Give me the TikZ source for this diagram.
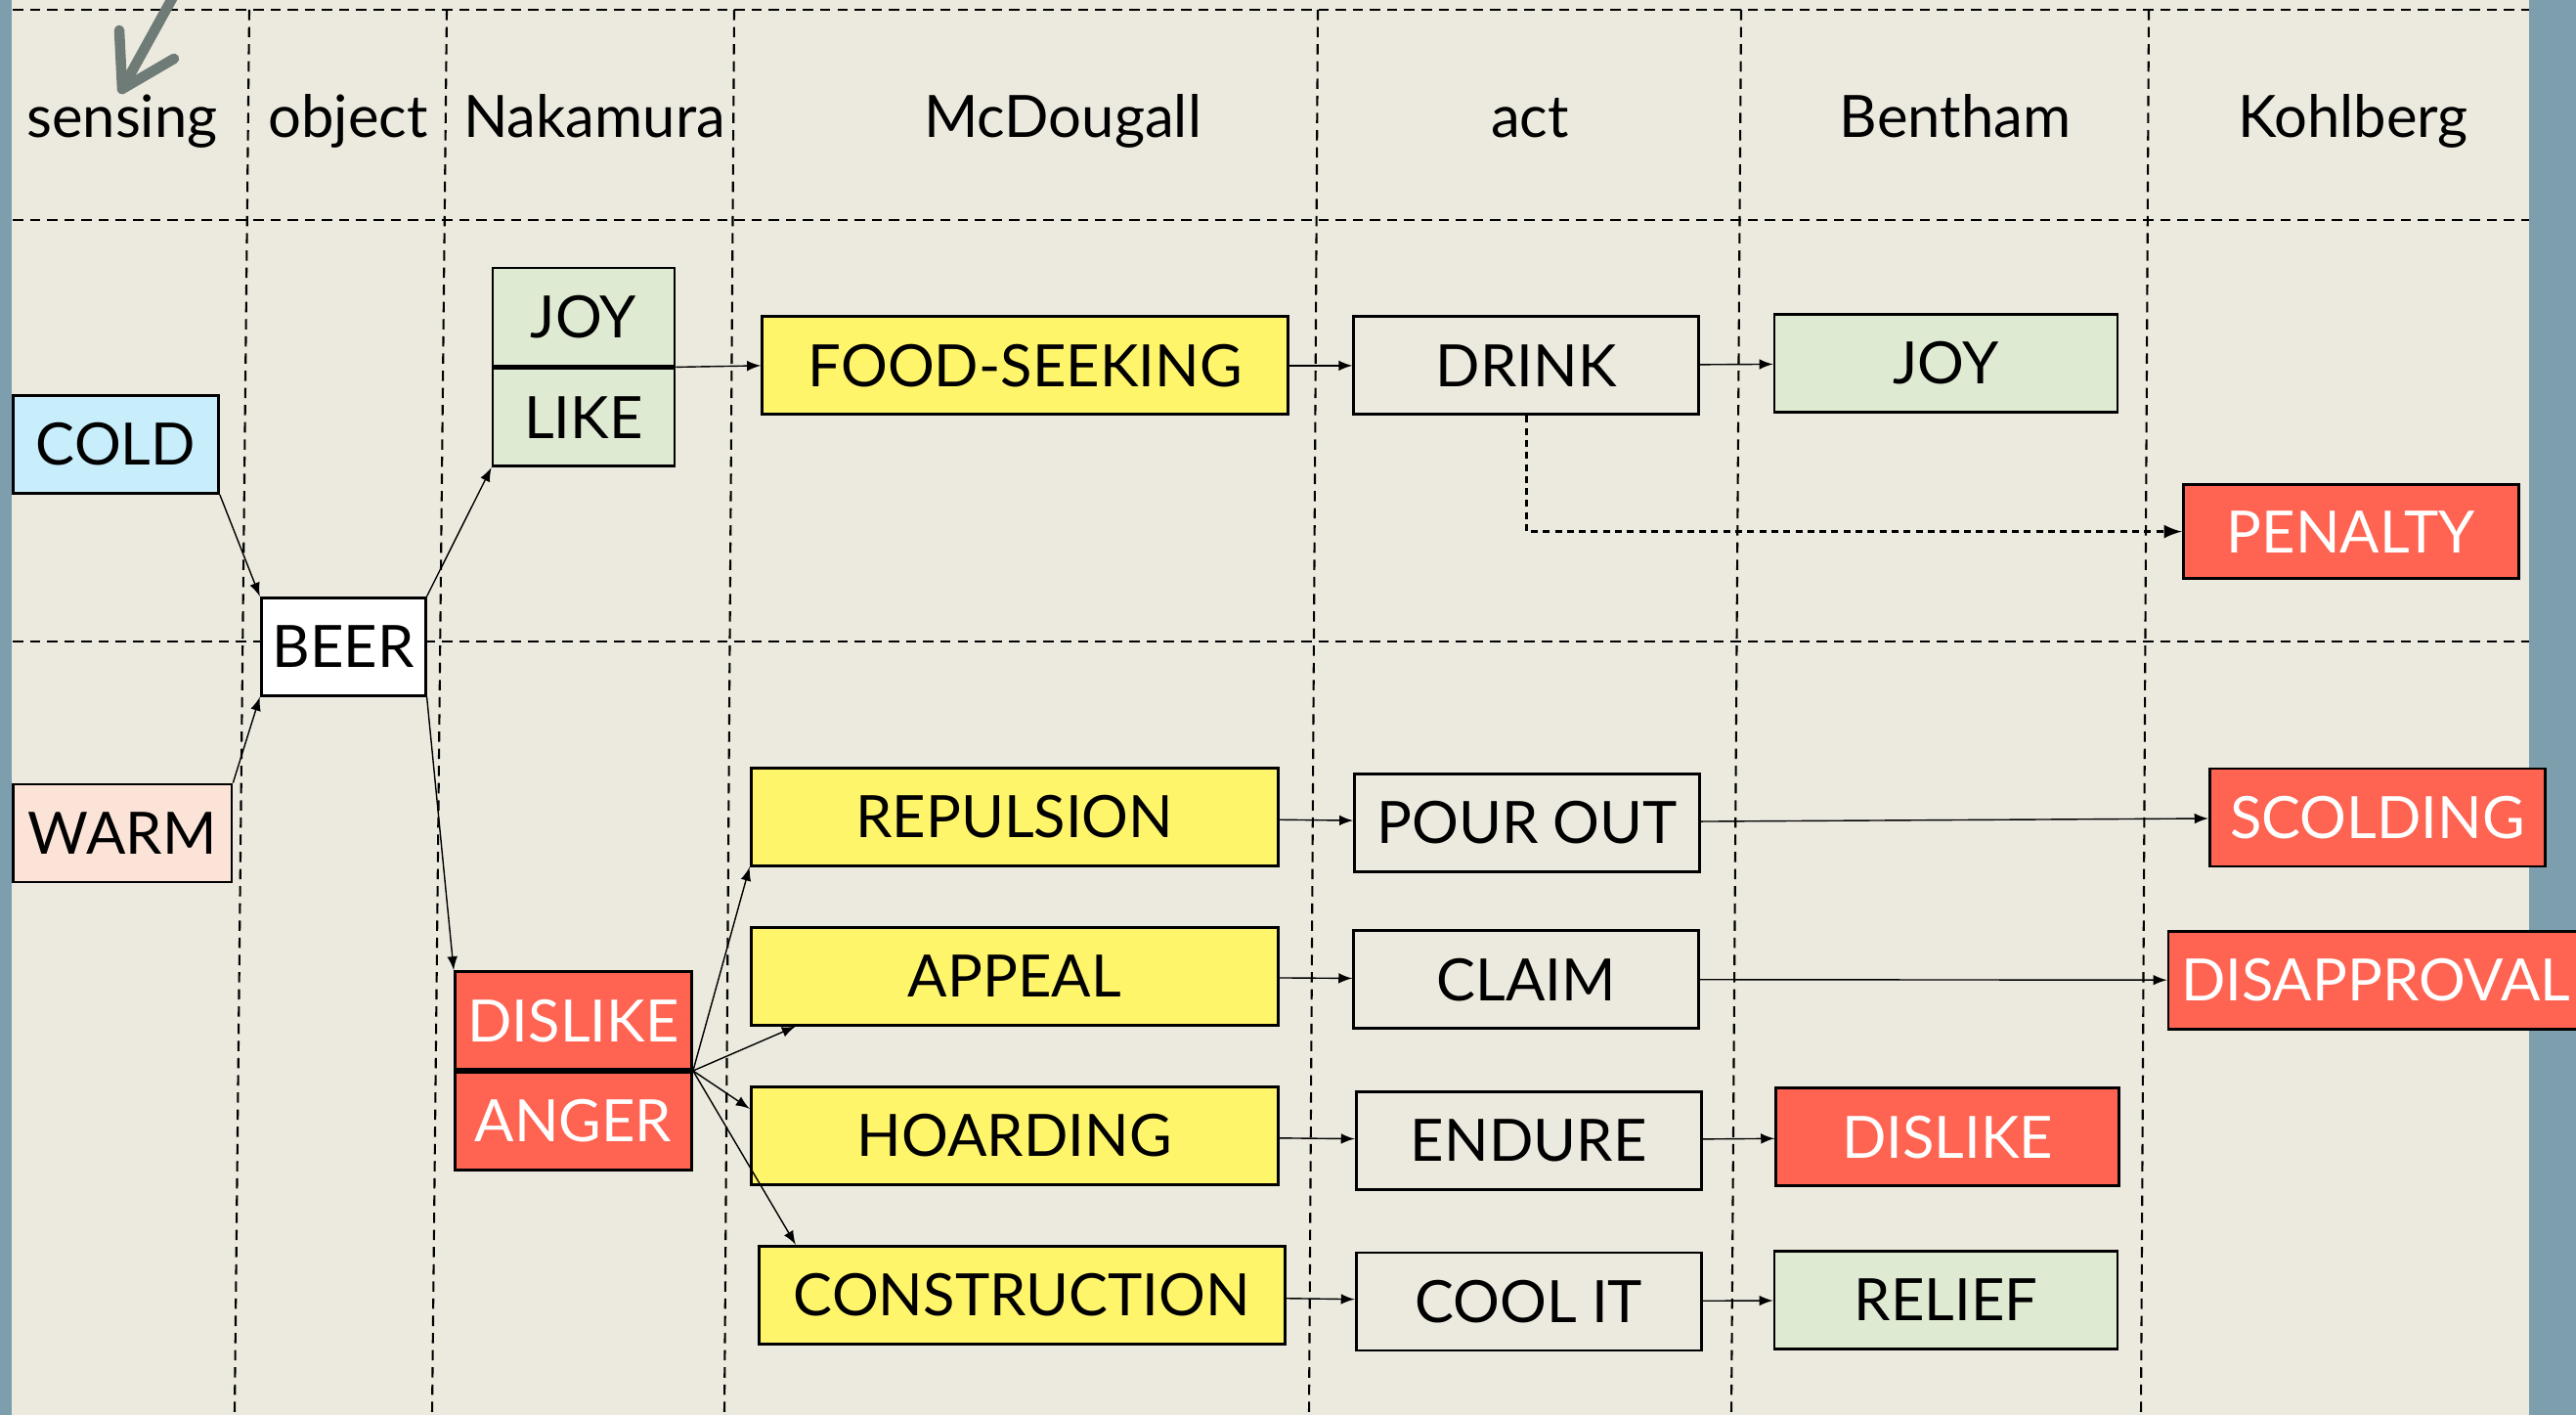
\documentclass[tikz,border=0pt]{standalone}
\usepackage{fontspec}
\setmainfont{Lato}
\usetikzlibrary{positioning,calc}

\definecolor{paper}{HTML}{ECEADF}
\definecolor{slate}{HTML}{7D9EAD}
\definecolor{pencil}{HTML}{6F7B76}
\definecolor{coldblue}{HTML}{C8EEFB}
\definecolor{warmpink}{HTML}{FCE3D7}
\definecolor{likegreen}{HTML}{DFEAD3}
\definecolor{drive}{HTML}{FFF56A}
\definecolor{blame}{HTML}{FF6351}

\begin{document}
\begin{tikzpicture}
    \tikzset{emo/.style={draw, line width=0.8pt, inner sep=0pt, minimum height=1cm,
        font=\fontsize{17}{20}\selectfont},
      likebox/.style={emo, fill=likegreen},
      drivebox/.style={emo, fill=drive, minimum width=5.39cm},
      actbox/.style={emo, minimum width=3.53cm},
      blamebox/.style={emo, fill=blame, text=white},
      headline/.style={anchor=base, font=\fontsize{17}{20}\selectfont},
      gridline/.style={line width=0.6pt, dash pattern=on 3pt off 2pt}
    }

    \useasboundingbox (0,0) rectangle (26.35,-14.47);
    \fill[paper] (0,0) rectangle (26.35,-14.47);
    \fill[slate] (0,0) rectangle (0.12,-14.47);
    \fill[slate] (25.87,0) rectangle (26.35,-14.47);

    % columns and rows
    \draw[gridline] (0.13,-0.10) -- (25.87,-0.10);
    \draw[gridline] (0.13,-2.25) -- (25.87,-2.25);
    \draw[gridline] (0.13,-6.56) -- (25.87,-6.56);
    \draw[gridline] (2.55,-0.10) -- (2.40,-14.47);
    \draw[gridline] (4.57,-0.10) -- (4.42,-14.47);
    \draw[gridline] (7.51,-0.10) -- (7.41,-14.47);
    \draw[gridline] (13.48,-0.10) -- (13.39,-14.47);
    \draw[gridline] (17.81,-0.10) -- (17.71,-14.47);
    \draw[gridline] (21.98,-0.10) -- (21.90,-14.47);

    % pencil mark
    \draw[pencil, line width=3pt, line cap=round, line join=round] (1.78,0.05) -- (1.25,-0.91);
    \draw[pencil, line width=3pt, line cap=round, line join=round] (1.22,-0.31) -- (1.25,-0.91) -- (1.78,-0.60);

    \node[headline] (hSens) at (1.25,-1.41) {sensing};
    \node[headline] (hObj) at (3.56,-1.41) {object};
    \node[headline] (hNak) at (6.08,-1.41) {Nakamura};
    \node[headline] (hMcD) at (10.87,-1.41) {McDougall};
    \node[headline] (hAct) at (15.65,-1.41) {act};
    \node[headline] (hBen) at (20.00,-1.41) {Bentham};
    \node[headline] (hKoh) at (24.07,-1.41) {Kohlberg};

    \node[emo, fill=coldblue, minimum width=2.10cm] (COLD) at (1.185,-4.546) {COLD};
    \node[emo, fill=warmpink, minimum width=2.235cm] (WARM) at (1.252,-8.520) {WARM};
    \node[emo, fill=white, minimum width=1.68cm] (BEER) at (3.512,-6.613) {BEER};

    \node[likebox, minimum width=1.86cm] (JOY) at (5.97,-3.24) {JOY};
    \node[likebox, minimum width=1.86cm, below=0pt of JOY] (LIKE) {LIKE};
    \node[blamebox, minimum width=2.42cm] (DISN) at (5.865,-10.436) {DISLIKE};
    \node[blamebox, minimum width=2.42cm, below=0pt of DISN] (ANG) {ANGER};

    \node[drivebox, minimum width=5.38cm] (FOOD) at (10.486,-3.739) {FOOD-SEEKING};
    \node[drivebox] (REP) at (10.377,-8.352) {REPULSION};
    \node[drivebox] (APP) at (10.377,-9.982) {APPEAL};
    \node[drivebox] (HOARD) at (10.377,-11.612) {HOARDING};
    \node[drivebox, minimum width=5.38cm] (CONS) at (10.453,-13.242) {CONSTRUCTION};

    \node[actbox] (DRINK) at (15.612,-3.739) {DRINK};
    \node[actbox] (POUR) at (15.620,-8.411) {POUR OUT};
    \node[actbox] (CLAIM) at (15.612,-10.016) {CLAIM};
    \node[actbox] (END) at (15.637,-11.663) {ENDURE};
    \node[actbox] (COOL) at (15.637,-13.310) {COOL IT};

    \node[likebox, minimum width=3.51cm] (JOYB) at (19.905,-3.714) {JOY};
    \node[blamebox, minimum width=3.51cm] (DISB) at (19.922,-11.629) {DISLIKE};
    \node[likebox, minimum width=3.51cm] (REL) at (19.905,-13.293) {RELIEF};

    \node[blamebox, minimum width=3.43cm, minimum height=0.96cm] (PEN) at (24.048,-5.436) {PENALTY};
    \node[blamebox, minimum width=3.43cm] (SCOLD) at (24.317,-8.360) {SCOLDING};
    \node[blamebox, minimum width=4.24cm] (DISAP) at (24.30,-10.024) {DISAPPROVAL};

    \draw[-latex] (COLD.south east) -- (BEER.north west);
    \draw[-latex] (WARM.north east) -- (BEER.south west);
    \draw[-latex] (BEER.north east) -- (LIKE.south west);
    \draw[-latex] (BEER.south east) -- (DISN.north west);
    \draw[-latex] (LIKE.north east) -- (FOOD.west);

    \draw[-latex] (DISN.south east) -- (REP.south west);
    \draw[-latex] (DISN.south east) -- ([xshift=0.47cm]APP.south west);
    \draw[-latex] (DISN.south east) -- ([yshift=-0.24cm]HOARD.north west);
    \draw[-latex] (DISN.south east) -- ([xshift=0.39cm]CONS.north west);

    \draw[-latex] (FOOD) -- (DRINK);
    \draw[-latex] (DRINK) -- (JOYB);
    \draw[-latex, line width=0.8pt, dash pattern=on 2pt off 1.5pt] (DRINK.south) |- (PEN.west);
    \draw[-latex] (REP) -- (POUR);
    \draw[-latex] (POUR) -- (SCOLD);
    \draw[-latex] (APP) -- (CLAIM);
    \draw[-latex] (CLAIM) -- (DISAP);
    \draw[-latex] (HOARD) -- (END);
    \draw[-latex] (END) -- (DISB);
    \draw[-latex] (CONS) -- (COOL);
    \draw[-latex] (COOL) -- (REL);
\end{tikzpicture}
\end{document}
